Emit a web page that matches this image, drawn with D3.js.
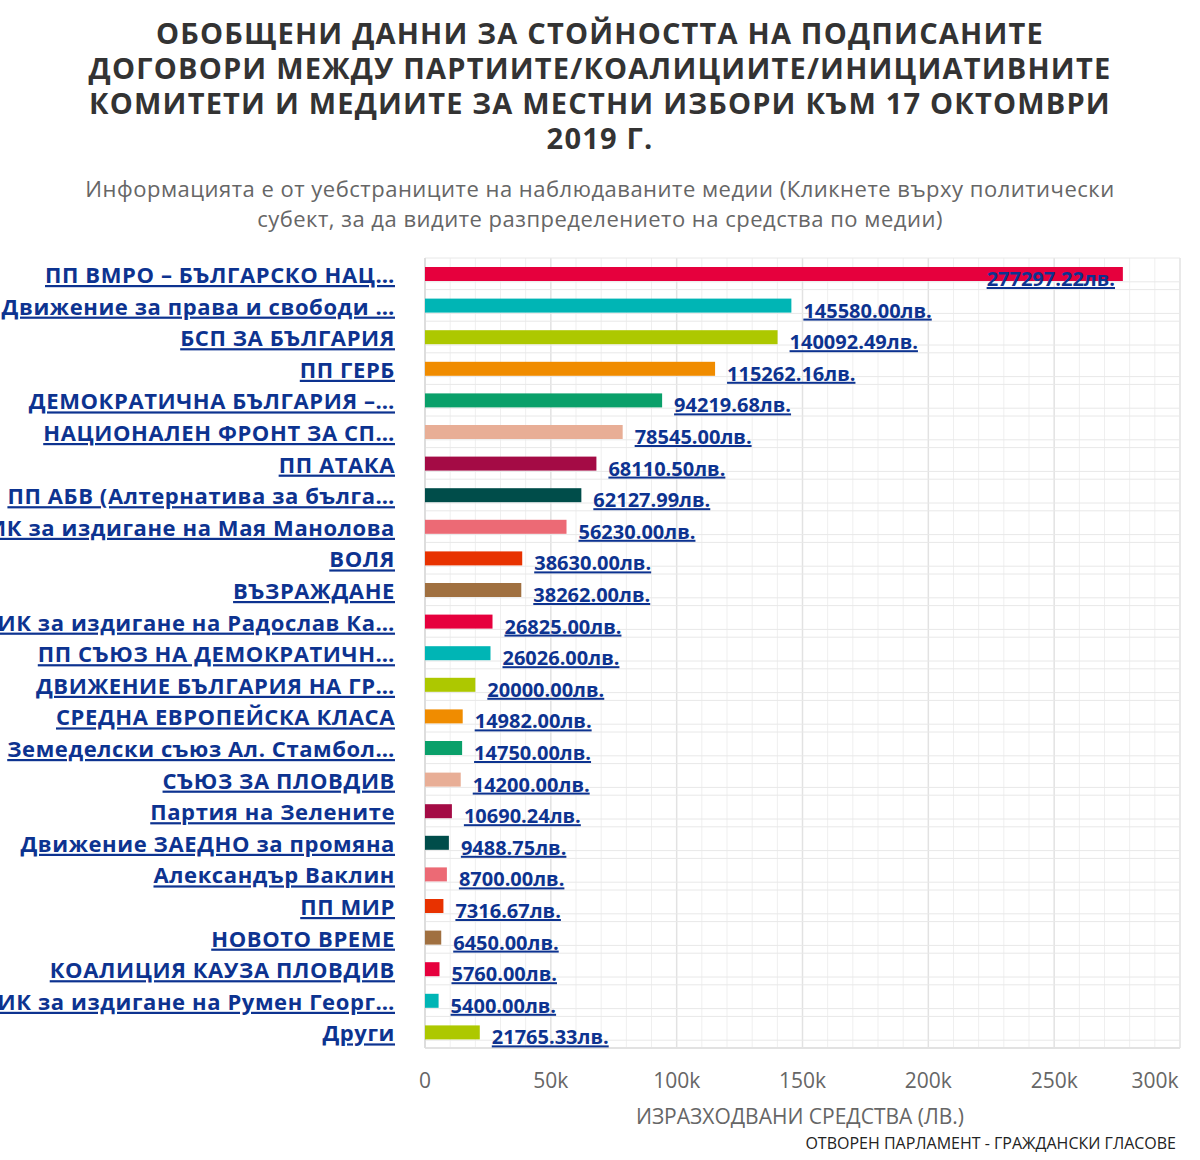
<!DOCTYPE html><html><head><meta charset="utf-8"><script src="https://cdn.jsdelivr.net/npm/d3@7"></script>
<style>body{margin:0;background:#fff}text{font-family:"Open Sans",sans-serif}</style></head><body>
<svg id="c" width="1200" height="1160"></svg>
<script>
const categories=["ПП ВМРО – БЪЛГАРСКО НАЦ…","Движение за права и свободи …","БСП ЗА БЪЛГАРИЯ","ПП ГЕРБ","ДЕМОКРАТИЧНА БЪЛГАРИЯ –…","НАЦИОНАЛЕН ФРОНТ ЗА СП…","ПП АТАКА","ПП АБВ (Алтернатива за бълга…","ИК за издигане на Мая Манолова","ВОЛЯ","ВЪЗРАЖДАНЕ","ИК за издигане на Радослав Ка…","ПП СЪЮЗ НА ДЕМОКРАТИЧН…","ДВИЖЕНИЕ БЪЛГАРИЯ НА ГР…","СРЕДНА ЕВРОПЕЙСКА КЛАСА","Земеделски съюз Ал. Стамбол…","СЪЮЗ ЗА ПЛОВДИВ","Партия на Зелените","Движение ЗАЕДНО за промяна","Александър Ваклин","ПП МИР","НОВОТО ВРЕМЕ","КОАЛИЦИЯ КАУЗА ПЛОВДИВ","ИК за издигане на Румен Георг…","Други"];
const values=[277297.22,145580,140092.49,115262.16,94219.68,78545,68110.5,62127.99,56230,38630,38262,26825,26026,20000,14982,14750,14200,10690.24,9488.75,8700,7316.67,6450,5760,5400,21765.33];
const palette=["#e6003d","#00b5b5","#adc800","#f08c00","#0aa06a","#e8ae96","#a40b45","#004d4a","#ec6a75","#e83200","#a07040"];
const ticks=[0,50000,100000,150000,200000,250000,300000];
const svg=d3.select("#c");
const x=d3.scaleLinear().domain([0,300000]).range([425,1180]);
const y=d3.scaleBand().domain(categories).range([258,1048]);
const g=svg.append("g");
d3.range(0,300001,10000).forEach(v=>g.append("line").attr("x1",x(v)).attr("x2",x(v)).attr("y1",258).attr("y2",1048).attr("stroke",v%50000?"#efefef":"#e2e2e2").attr("stroke-width",v%50000?1:1.5));
categories.forEach((c,i)=>{const y0=y(c);[y0,y0+y.bandwidth()/2+8].forEach(yy=>g.append("line").attr("x1",425).attr("x2",1180).attr("y1",yy).attr("y2",yy).attr("stroke","#e8e8e8"));});
g.append("line").attr("x1",425).attr("x2",1180).attr("y1",1048).attr("y2",1048).attr("stroke","#e2e2e2").attr("stroke-width",2);
g.append("line").attr("x1",425).attr("x2",425).attr("y1",258).attr("y2",1048).attr("stroke","#ddd").attr("stroke-width",2);
svg.selectAll(".bar").data(values).join("rect").attr("x",x(0)).attr("y",(d,i)=>y(categories[i])+9).attr("height",14).attr("width",d=>x(d)-x(0)).attr("fill",(d,i)=>palette[i%palette.length]);
svg.selectAll(".val").data(values).join("text").attr("x",(d,i)=>i==0?1115:x(d)+12).attr("text-anchor",(d,i)=>i==0?"end":"start").attr("y",(d,i)=>y(categories[i])+28).attr("font-size",20).attr("font-weight","bold").attr("fill","#0d3390").attr("text-decoration","underline").text(d=>d.toFixed(2)+"лв.");
svg.selectAll(".cat").data(categories).join("text").attr("x",395).attr("y",c=>y(c)+25).attr("text-anchor","end").attr("font-size",22).attr("letter-spacing",0.6).attr("font-weight","bold").attr("fill","#0d3390").attr("text-decoration","underline").text(c=>c);
svg.selectAll(".tk").data(ticks).join("text").attr("x",d=>d==300000?1155:x(d)).attr("y",1088).attr("text-anchor","middle").attr("font-size",21).attr("fill","#666").text(d=>d?d/1000+"k":"0");
svg.append("text").attr("x",800).attr("y",1124).attr("text-anchor","middle").attr("font-size",21).attr("fill","#666").text("ИЗРАЗХОДВАНИ СРЕДСТВА (ЛВ.)");
svg.append("text").attr("x",1176).attr("y",1149).attr("text-anchor","end").attr("font-size",16).attr("fill","#222").text("ОТВОРЕН ПАРЛАМЕНТ - ГРАЖДАНСКИ ГЛАСОВЕ");
["ОБОБЩЕНИ ДАННИ ЗА СТОЙНОСТТА НА ПОДПИСАНИТЕ","ДОГОВОРИ МЕЖДУ ПАРТИИТЕ/КОАЛИЦИИТЕ/ИНИЦИАТИВНИТЕ","КОМИТЕТИ И МЕДИИТЕ ЗА МЕСТНИ ИЗБОРИ КЪМ 17 ОКТОМВРИ","2019 Г."].forEach((t,i)=>svg.append("text").attr("x",600).attr("y",44+i*35).attr("text-anchor","middle").attr("font-size",29).attr("letter-spacing",1.2).attr("font-weight","bold").attr("fill","#333").text(t));
["Информацията е от уебстраниците на наблюдаваните медии (Кликнете върху политически","субект, за да видите разпределението на средства по медии)"].forEach((t,i)=>svg.append("text").attr("x",600).attr("y",197+i*30).attr("text-anchor","middle").attr("font-size",22).attr("letter-spacing",0.5).attr("fill","#666").text(t));
</script></body></html>
